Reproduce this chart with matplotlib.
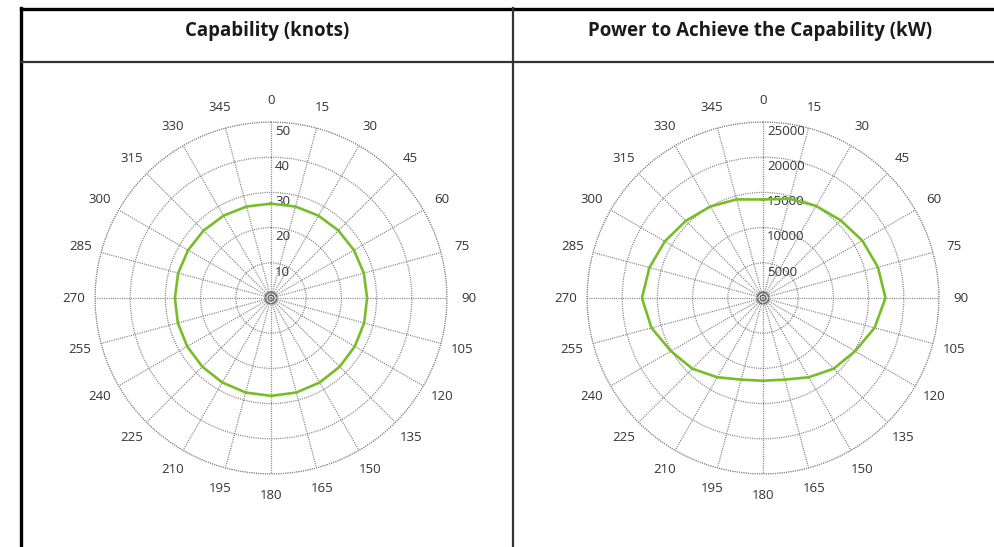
import numpy as np
import matplotlib
matplotlib.use("Agg")
import matplotlib.pyplot as plt
from matplotlib.lines import Line2D

# ---- data ----
angles_deg = [0, 15, 30, 45, 60, 75, 90, 105, 120, 135, 150, 165,
              180, 195, 210, 225, 240, 255, 270, 285, 300, 315, 330, 345]
capability_knots = [26.8, 26.9, 27.0, 27.1, 27.2, 27.3, 27.3, 27.4, 27.5, 27.6, 27.7, 27.8,
                    27.8, 27.8, 27.7, 27.6, 27.5, 27.4, 27.3, 27.3, 27.2, 27.1, 27.0, 26.9]
power_kw = [14000, 14600, 15100, 15600, 16300, 16900, 17400, 16400, 15100, 14200, 13000, 12000,
            11750, 12000, 13000, 14200, 15100, 16400, 17200, 16700, 16100, 15500, 15000, 14500]
knots_ticks = [10, 20, 30, 40, 50]
power_ticks = [5000, 10000, 15000, 20000, 25000]
angle_tick_labels = [str(a) for a in angles_deg]
titles = ["Capability (knots)", "Power to Achieve the Capability (kW)"]

W, H = 995, 547
fig = plt.figure(figsize=(W / 100, H / 100), dpi=100)
fig.patch.set_facecolor("white")

LABEL_FONT = ["Open Sans", "DejaVu Sans"]
GREEN = "#78bc28"
GRID = "#7a7a7a"
DOTS = (0, (0.8, 1.0))

def px(x, y):
    return x / W, 1 - y / H

# table borders
fig.add_artist(Line2D([px(21.5, 0)[0]] * 2, [px(0, 7.5)[1], 0], color="black", lw=2.4))
fig.add_artist(Line2D([px(21.5, 0)[0], 1], [px(0, 8.5)[1]] * 2, color="black", lw=2.4))
fig.add_artist(Line2D([px(21.5, 0)[0], 1], [px(0, 61.5)[1]] * 2, color="#333333", lw=1.6))
fig.add_artist(Line2D([px(513, 0)[0]] * 2, [px(0, 8)[1], 0], color="#333333", lw=1.6))

# titles
for cx, t, fs in zip([267, 760], titles, [13.4, 13.5]):
    fig.text(px(cx, 0)[0], px(0, 31)[1], t, ha="center", va="center",
             fontsize=fs, fontweight="bold", family=["Open Sans", "DejaVu Sans"],
             color="#1a1a1a")

def polar_panel(cx, cy, R, values, ticks):
    left, _ = px(cx - R, 0)
    bottom = (H - cy - R) / H
    ax = fig.add_axes([left, bottom, 2 * R / W, 2 * R / H], projection="polar")
    ax.set_theta_zero_location("N")
    ax.set_theta_direction(-1)
    rmax = ticks[-1]
    ax.set_ylim(0, rmax)
    th = np.deg2rad(angles_deg + [angles_deg[0]])
    vals = list(values) + [values[0]]
    ax.plot(th, vals, color=GREEN, lw=1.9, zorder=5)
    ax.set_thetagrids(angles_deg, angle_tick_labels, fontsize=9.5,
                      family=LABEL_FONT, color="#333333")
    ax.tick_params(axis="x", pad=5)
    ax.set_rgrids(ticks)
    ax.set_yticklabels([])
    ax.grid(True, color=GRID, linestyle=DOTS, lw=0.9)
    ax.spines["polar"].set_visible(False)
    tt = np.linspace(0, 2 * np.pi, 361)
    ax.plot(tt, np.full_like(tt, rmax), color=GRID, linestyle=DOTS, lw=0.9,
            clip_on=False)
    # tiny center circles
    for f in (0.017, 0.034):
        ax.plot(tt, np.full_like(tt, f * rmax), color="#555555", lw=0.7)
    for r in ticks:
        ax.annotate(f"{r}", xy=(0, r), xytext=(3, -2), textcoords="offset points",
                    ha="left", va="top", fontsize=9.5, family=LABEL_FONT,
                    color="#333333", zorder=4)
    return ax

polar_panel(271, 298, 176, capability_knots, knots_ticks)
polar_panel(763, 298, 176, power_kw, power_ticks)

fig.savefig("out.png", dpi=100, facecolor="white")
